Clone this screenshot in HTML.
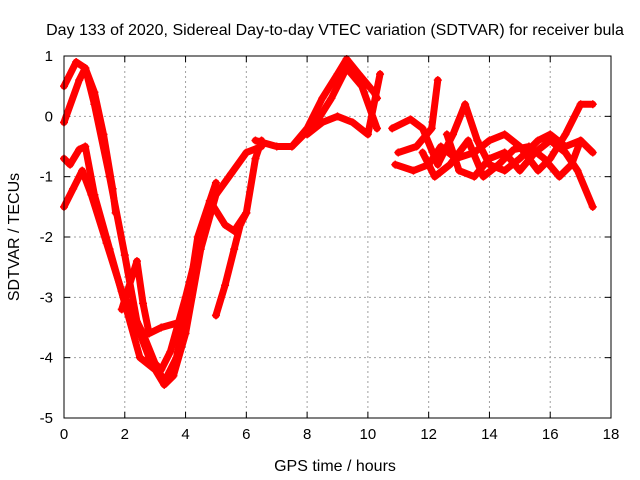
<!DOCTYPE html>
<html><head><meta charset="utf-8"><style>
body{margin:0;background:#fff}
svg{display:block;font-family:"Liberation Sans",sans-serif}
</style></head><body>
<svg id="chart" width="640" height="480" viewBox="0 0 640 480">
<text x="335" y="35" font-size="16" text-anchor="middle">Day 133 of 2020, Sidereal Day-to-day VTEC variation (SDTVAR) for receiver bula</text>
<g id="grid"></g>
<g id="axes"></g>
<g id="series"></g>
<rect x="64" y="56" width="547" height="362" fill="none" stroke="#000" stroke-width="1"/>
<text x="335" y="471" font-size="16" text-anchor="middle">GPS time / hours</text>
<text transform="translate(19,237) rotate(-90)" font-size="16" text-anchor="middle">SDTVAR / TECUs</text>
</svg>
<script>
const xTicks=[0,2,4,6,8,10,12,14,16,18];
const yTicks=[1,0,-1,-2,-3,-4,-5];
const trackA=[[0,0.5],[0.4,0.9],[0.7,0.8],[1.0,0.4],[1.3,-0.3],[1.6,-1.2],[1.7,-1.6]];
const trackB=[[0,-0.1],[0.5,0.6],[0.7,0.8],[1.0,0.2],[1.5,-1.0],[2.0,-2.3],[2.4,-3.4],[2.6,-3.6],[3.0,-4.1],[3.3,-4.4],[3.7,-4.0],[4.1,-3.0],[4.4,-2.0],[4.8,-1.4],[5.0,-1.1]];
const trackC=[[0,-0.7],[0.2,-0.8],[0.5,-0.55],[0.7,-0.5],[1.0,-1.3],[1.5,-2.2],[2.0,-3.1],[2.5,-4.0],[3.0,-4.2],[3.3,-4.45],[3.6,-4.3],[4.0,-3.6],[4.5,-2.2],[5.0,-1.3],[5.5,-0.95],[6.0,-0.6],[6.5,-0.5]];
const trackD=[[0,-1.5],[0.3,-1.2],[0.6,-0.9],[0.9,-1.3],[1.4,-2.1],[1.9,-2.9],[2.2,-3.2],[2.5,-3.6],[2.8,-4.0],[3.2,-4.2],[3.5,-3.9],[4.0,-3.0],[4.4,-2.2],[4.8,-1.4],[5.3,-1.8],[5.6,-1.9],[6.0,-1.6],[6.3,-0.7],[6.5,-0.4]];
const trackE=[[1.9,-3.2],[2.4,-2.4],[2.6,-3.1],[2.8,-3.6],[3.2,-3.5],[3.9,-3.4]];
const trackF=[[5.0,-3.3],[5.3,-2.8],[5.6,-2.2],[5.8,-1.8],[6.0,-1.6]];
const trackG=[[6.3,-0.4],[7,-0.5],[7.5,-0.5],[8.0,-0.2],[8.5,0.3],[9,0.7],[9.3,0.95],[9.7,0.7],[10.2,0.4],[10.3,0.3]];
const trackH=[[7.5,-0.5],[8.3,-0.1],[8.8,0.3],[9.3,0.8],[9.8,0.5],[10.3,-0.2]];
const trackI=[[8,-0.3],[8.5,-0.1],[9.0,0.0],[9.5,-0.1],[10.0,-0.3],[10.4,0.7]];
const trackJ=[[10.8,-0.2],[11.4,-0.05],[11.8,-0.2],[12.3,-0.8],[12.8,-0.3],[13.2,0.2],[13.6,-0.4],[14,-0.8],[14.5,-0.9],[15,-0.7],[15.6,-0.4],[16,-0.3],[16.5,-0.5],[17,-0.4],[17.4,-0.6]];
const trackK=[[10.9,-0.8],[11.5,-0.9],[12,-0.8],[12.4,-0.5],[12.9,-0.7],[13.5,-0.6],[14,-0.4],[14.5,-0.3],[15,-0.5],[15.6,-0.9],[16,-0.7],[16.5,-0.3],[17,0.2],[17.4,0.2]];
const trackL=[[11,-0.6],[11.6,-0.5],[12.1,-0.2],[12.3,0.6]];
const trackM=[[12.6,-0.3],[13.0,-0.9],[13.5,-1.0],[14,-0.7],[14.5,-0.6],[15,-0.9],[15.5,-0.6],[16,-0.4],[16.5,-0.6],[16.9,-0.9],[17.4,-1.5]];
const trackN=[[11.8,-0.6],[12.2,-1.0],[12.7,-0.8],[13.3,-0.4],[13.8,-1.0],[14.3,-0.8],[14.8,-0.55],[15.3,-0.5],[15.8,-0.7],[16.3,-1.0],[16.7,-0.8],[17.0,-0.4]];
const tracks=[trackA,trackB,trackC,trackD,trackE,trackF,trackG,trackH,trackI,trackJ,trackK,trackL,trackM,trackN];

const X0=64,X1=611,Y0=418,Y1=56;
const xs=v=>X0+(v-0)/(18-0)*(X1-X0);
const ys=v=>Y0-(v-(-5))/(1-(-5))*(Y0-Y1);
const NS='http://www.w3.org/2000/svg';
function mk(tag,attrs,parent){const e=document.createElementNS(NS,tag);for(const k in attrs)e.setAttribute(k,attrs[k]);parent.appendChild(e);return e;}
const grid=document.getElementById('grid'),axes=document.getElementById('axes'),series=document.getElementById('series');
xTicks.forEach(t=>{const x=xs(t);
 if(t>0&&t<18){const g=mk('line',{x1:x,x2:x,y1:Y1,y2:Y0,stroke:'#a0a0a0','stroke-dasharray':'2,3'},grid);
 
 }
 mk('line',{x1:x,x2:x,y1:Y0,y2:Y0-6,stroke:'#000'},axes);
 mk('line',{x1:x,x2:x,y1:Y1,y2:Y1+6,stroke:'#000'},axes);
 const l=mk('text',{x:x,y:Y0+21,'font-size':15,'text-anchor':'middle'},axes);l.textContent=t;
 
 
});
yTicks.forEach(t=>{const y=ys(t);
 if(t>-5&&t<1){const g=mk('line',{x1:X0,x2:X1,y1:y,y2:y,stroke:'#a0a0a0','stroke-dasharray':'2,3'},grid);
 
 }
 mk('line',{x1:X0,x2:X0+6,y1:y,y2:y,stroke:'#000'},axes);
 mk('line',{x1:X1,x2:X1-6,y1:y,y2:y,stroke:'#000'},axes);
 const l=mk('text',{x:X0-11,y:y+5,'font-size':15,'text-anchor':'end'},axes);l.textContent=t;
 
 
});
tracks.forEach((tr,i)=>{
 const pts=tr.map(p=>xs(p[0])+','+ys(p[1])).join(' ');
 const pl=mk('polyline',{points:pts,fill:'none',stroke:'#f00','stroke-width':7,'stroke-linejoin':'round','stroke-linecap':'round'},series);
 
 
 tr.forEach(p=>{const x=xs(p[0]),y=ys(p[1]);
  const m=mk('path',{d:`M${x-4},${y}H${x+4}M${x},${y-4}V${y+4}`,stroke:'#f00','stroke-width':1.5},series);
  
  
 });
});
</script>
</body></html>
